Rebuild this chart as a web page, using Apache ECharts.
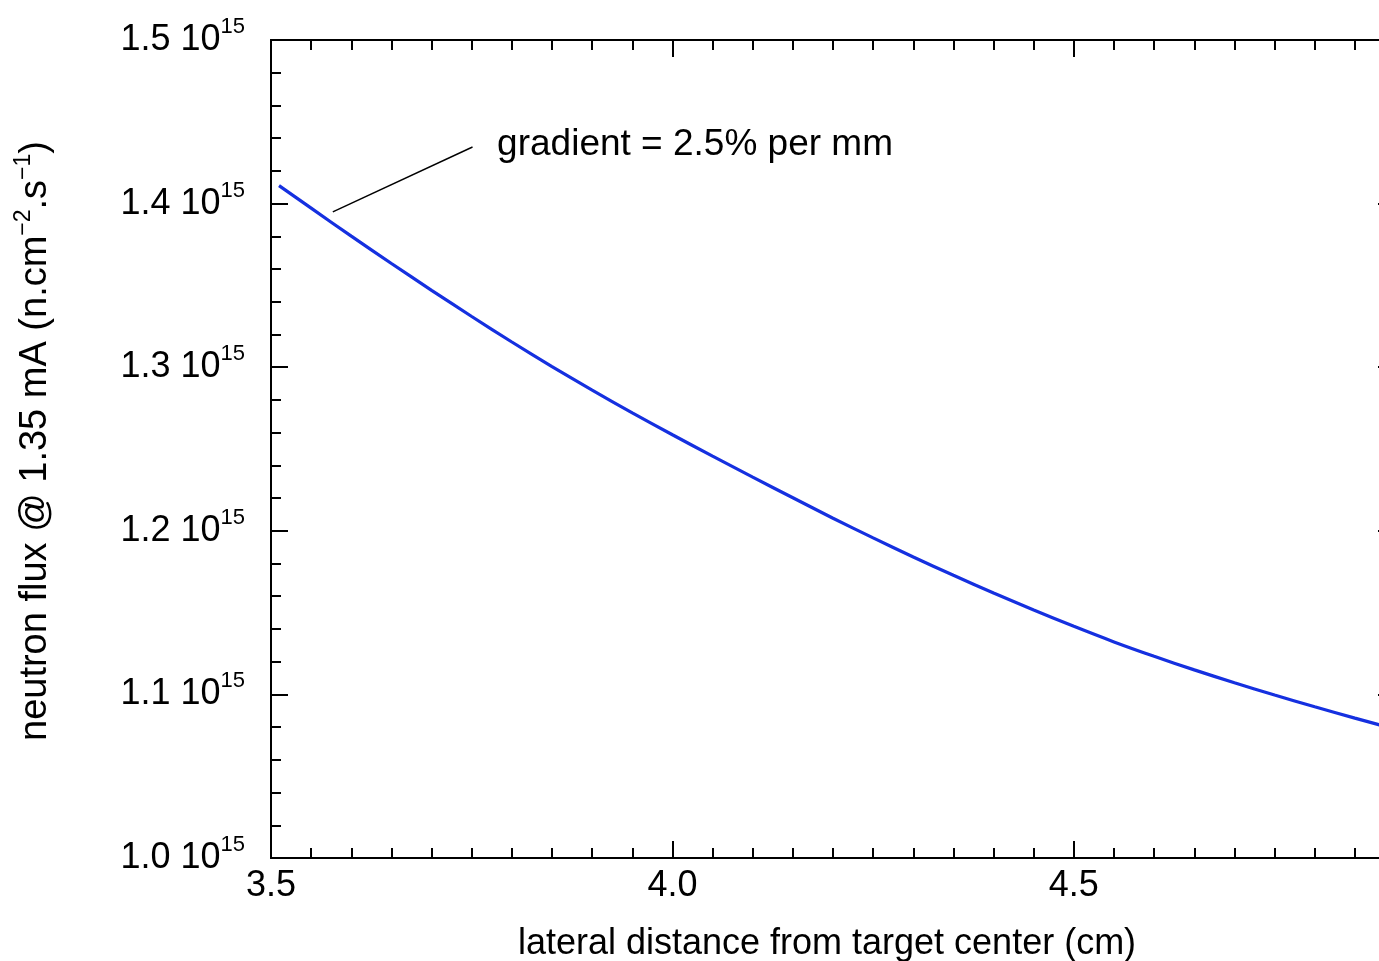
<!DOCTYPE html>
<html>
<head>
<meta charset="utf-8">
<script src="https://cdn.jsdelivr.net/npm/echarts@6/dist/echarts.min.js"></script>
<style>
html,body{margin:0;padding:0;background:#fff;}
#chart{width:1379px;height:961px;}
</style>
</head>
<body>
<div id="chart"></div>
<script>
// ---- data ----
const distanceCm = [3.51, 3.55, 3.60, 3.65, 3.70, 3.75, 3.80, 3.85, 3.90, 3.95,
  4.00, 4.05, 4.10, 4.15, 4.20, 4.25, 4.30, 4.35, 4.40, 4.45,
  4.50, 4.55, 4.60, 4.65, 4.70, 4.75, 4.80, 4.85, 4.90];
const fluxE15 = [1.4110, 1.3972, 1.3801, 1.3634, 1.3470, 1.3310, 1.3154, 1.3004, 1.2860, 1.2721,
  1.2587, 1.2456, 1.2328, 1.2202, 1.2077, 1.1957, 1.1840, 1.1728, 1.1620, 1.1516,
  1.1416, 1.1321, 1.1233, 1.1150, 1.1071, 1.0996, 1.0924, 1.0855, 1.0788];
const annotationLineX = [3.577, 3.751];
const annotationLineY = [1.395, 1.4346];
const annotationAnchor = [3.781, 1.436];
const annotationText = 'gradient = 2.5% per mm';
const xTickLabels = ['3.5', '4.0', '4.5'];
const yTickLabels = ['1.0', '1.1', '1.2', '1.3', '1.4', '1.5'];
const yExponent = '15';
const xTitle = 'lateral distance from target center (cm)';

const FONT = 'Liberation Sans, Arial, Helvetica, sans-serif';
const BLACK = '#000000';
const X_MIN = 3.5, X_MAX = 4.9, Y_MIN = 1.0, Y_MAX = 1.5;

function xAxisDef(pos, major, withLabels) {
  return {
    type: 'value', position: pos, min: X_MIN, max: X_MAX,
    interval: major ? 0.5 : 0.05,
    axisLine: { show: true, onZero: false, lineStyle: { color: BLACK, width: 2 } },
    axisTick: { show: true, inside: true, length: major ? 17 : 10, lineStyle: { color: BLACK, width: 2 } },
    splitLine: { show: false },
    axisLabel: withLabels ? {
      show: true, margin: 10, fontSize: 36, color: BLACK, fontFamily: FONT,
      showMaxLabel: false,
      formatter: function (v) {
        const s = v.toFixed(1);
        return xTickLabels.indexOf(s) >= 0 && Math.abs(v * 2 - Math.round(v * 2)) < 1e-6 ? s : '';
      }
    } : { show: false },
    name: withLabels ? xTitle : '',
    nameLocation: 'middle', nameGap: 68,
    nameTextStyle: { fontSize: 36, color: BLACK, fontFamily: FONT, padding: [0, 12, 0, 0] }
  };
}

function yAxisDef(pos, withLabels) {
  return {
    type: 'value', position: pos, min: Y_MIN, max: Y_MAX, interval: 0.1,
    axisLine: { show: true, onZero: false, lineStyle: { color: BLACK, width: 2 } },
    axisTick: { show: true, inside: true, length: 17, lineStyle: { color: BLACK, width: 2 } },
    minorTick: { show: true, splitNumber: 5, length: 10, lineStyle: { color: BLACK, width: 2 } },
    splitLine: { show: false }, minorSplitLine: { show: false },
    axisLabel: withLabels ? {
      show: true, margin: 26, color: BLACK, fontFamily: FONT,
      formatter: function (v) {
        const s = v.toFixed(1);
        return yTickLabels.indexOf(s) >= 0 ? '{a|' + s + ' 10}{s|' + yExponent + '}' : '';
      },
      rich: {
        a: { fontSize: 36, fontFamily: FONT, color: BLACK, lineHeight: 48 },
        s: { fontSize: 22, fontFamily: FONT, color: BLACK, verticalAlign: 'top', lineHeight: 22 }
      }
    } : { show: false },
    name: withLabels ? '{a|neutron flux @ 1.35 mA (n.cm}{s|\u22122}{a|.s}{s|\u22121}{a|)}' : '',
    nameLocation: 'middle', nameRotate: 90, nameGap: 212,
    nameTextStyle: {
      fontFamily: FONT, color: BLACK, padding: [0, 0, 0, 16],
      rich: {
        a: { fontSize: 38, fontFamily: FONT, color: BLACK, lineHeight: 47 },
        s: { fontSize: 23, fontFamily: FONT, color: BLACK, verticalAlign: 'top', lineHeight: 23 }
      }
    }
  };
}

const chart = echarts.init(document.getElementById('chart'), null, { renderer: 'canvas' });
chart.setOption({
  backgroundColor: '#fff',
  animation: false,
  grid: { left: 271, top: 40, width: 1124, height: 818, containLabel: false, outerBoundsMode: 'none' },
  xAxis: [
    xAxisDef('bottom', true, true),
    xAxisDef('bottom', false, false),
    xAxisDef('top', true, false),
    xAxisDef('top', false, false)
  ],
  yAxis: [
    yAxisDef('left', true),
    yAxisDef('right', false)
  ],
  series: [
    {
      type: 'line', xAxisIndex: 0, yAxisIndex: 0,
      data: distanceCm.map((x, i) => [x, fluxE15[i]]),
      showSymbol: false, symbol: 'none', smooth: 0.3,
      lineStyle: { color: '#1530e0', width: 3.2 }, clip: true, z: 3
    },
    {
      type: 'line', xAxisIndex: 0, yAxisIndex: 0,
      data: annotationLineX.map((x, i) => [x, annotationLineY[i]]),
      showSymbol: false, symbol: 'none',
      lineStyle: { color: BLACK, width: 1.4 }, z: 2
    },
    {
      type: 'scatter', xAxisIndex: 0, yAxisIndex: 0,
      data: [annotationAnchor], symbolSize: 1,
      itemStyle: { color: 'rgba(0,0,0,0)', opacity: 1 },
      label: {
        show: true, position: 'right', distance: 0, opacity: 1,
        formatter: annotationText, fontSize: 37, fontFamily: FONT, color: BLACK
      },
      emphasis: { disabled: true }, z: 4
    }
  ]
});
</script>
</body>
</html>
